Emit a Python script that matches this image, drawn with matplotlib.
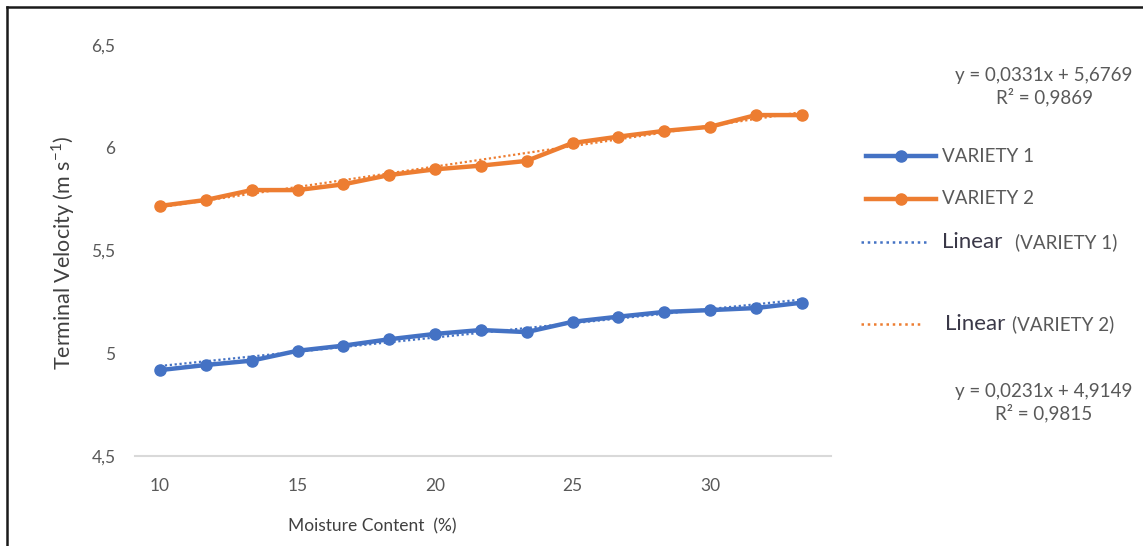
import matplotlib
matplotlib.use("Agg")
import matplotlib.pyplot as plt
from matplotlib.lines import Line2D
import numpy as np

plt.rcParams['font.family'] = ['Lato', 'DejaVu Sans']

# moisture content (%) and terminal velocity (m/s)
moisture = [10, 11.67, 13.33, 15, 16.67, 18.33, 20, 21.67, 23.33, 25,
            26.67, 28.33, 30, 31.67, 33.33]
variety1 = [4.918, 4.943, 4.964, 5.012, 5.037, 5.068, 5.094, 5.113, 5.103,
            5.153, 5.178, 5.201, 5.210, 5.220, 5.246]
variety2 = [5.717, 5.746, 5.794, 5.794, 5.822, 5.867, 5.895, 5.913, 5.936,
            6.023, 6.054, 6.082, 6.102, 6.159, 6.159]

# Excel trendline coefficients (x = point index 1..n)
fit1 = (0.0231, 4.9149)
fit2 = (0.0331, 5.6769)
eq1 = "y = 0,0231x + 4,9149\nR² = 0,9815"
eq2 = "y = 0,0331x + 5,6769\nR² = 0,9869"

xticks = [10, 15, 20, 25, 30]
xticklabels = ["10", "15", "20", "25", "30"]
yticks = [4.5, 5, 5.5, 6, 6.5]
yticklabels = ["4,5", "5", "5,5", "6", "6,5"]

blue = '#4472C4'
orange = '#ED7D31'
gray = '#595959'

W, H = 1143, 546
fig = plt.figure(figsize=(W / 100, H / 100), dpi=100)
ax = fig.add_axes([135 / W, 1 - 456 / H, 696 / W, 411 / H])

ax.plot(moisture, variety1, color=blue, lw=3.2, marker='o', ms=8, zorder=3)
ax.plot(moisture, variety2, color=orange, lw=3.2, marker='o', ms=8, zorder=3)

idx = np.arange(1, len(moisture) + 1)
ax.plot(moisture, fit1[0] * idx + fit1[1], color=blue, lw=1.6,
        ls=(0, (1, 1.2)), zorder=4)
ax.plot(moisture, fit2[0] * idx + fit2[1], color=orange, lw=1.6,
        ls=(0, (1, 1.2)), zorder=4)

ax.set_xlim(9.09, 34.4)
ax.set_ylim(4.5, 6.5)
ax.set_xticks(xticks)
ax.set_xticklabels(xticklabels)
ax.set_yticks(yticks)
ax.set_yticklabels(yticklabels)
ax.tick_params(length=0, labelsize=12.5, colors=gray)
ax.tick_params(axis='x', pad=16)
ax.tick_params(axis='y', pad=14)
for s in ['top', 'right', 'left']:
    ax.spines[s].set_visible(False)
ax.spines['bottom'].set_color('#D9D9D9')
ax.spines['bottom'].set_linewidth(1.5)

ax.set_xlabel('Moisture Content  (%)', fontsize=12.5, color='#404040')
ax.xaxis.set_label_coords((372 - 135) / 696, (456 - 526) / 411)
ax.xaxis.label.set_va('center')
ax.set_ylabel('Terminal Velocity (m s$^{\\mathregular{-1}}$)', fontsize=15.5,
              color='#404040')
ax.yaxis.set_label_coords((63 - 135) / 696, (456 - 253) / 411)
ax.yaxis.label.set_va('center')

# legend drawn by hand (uneven spacing in the original)
def fx(px):
    return px / W

def fy(py):
    return 1 - py / H

for col, y, lab in [(blue, 156, 'VARIETY 1'), (orange, 199, 'VARIETY 2')]:
    fig.add_artist(Line2D([fx(866), fx(936)], [fy(y), fy(y)], color=col, lw=3.2))
    fig.add_artist(Line2D([fx(901)], [fy(y)], color=col, marker='o', ms=8))
    fig.text(fx(942), fy(y), lab, fontsize=13.5, color=gray, va='center')

for col, y, x0, x1, xl, xv, lab in [(blue, 242, 861, 928, 942, 1015, '(VARIETY 1)'),
                                    (orange, 324, 861, 920, 945, 1012, '(VARIETY 2)')]:
    fig.add_artist(Line2D([fx(x0), fx(x1)], [fy(y), fy(y)], color=col, lw=1.8,
                          ls=(0, (1, 1.5))))
    fig.text(fx(xl), fy(y), 'Linear', fontsize=16, color='#3A3848', va='center')
    fig.text(fx(xv), fy(y), lab, fontsize=13.5, color=gray, va='center')

fig.text(fx(1044), fy(87), eq2, fontsize=13.5, color=gray, ha='center',
         va='center', linespacing=1.25)
fig.text(fx(1044), fy(403), eq1, fontsize=13.5, color=gray, ha='center',
         va='center', linespacing=1.25)

# outer frame (left and top only visible)
fig.add_artist(Line2D([fx(7), fx(7)], [fy(7), 0], color='#1a1a1a', lw=1.8))
fig.add_artist(Line2D([fx(7), 1], [fy(7), fy(7)], color='#1a1a1a', lw=1.8))

fig.savefig('out.png', dpi=100)
